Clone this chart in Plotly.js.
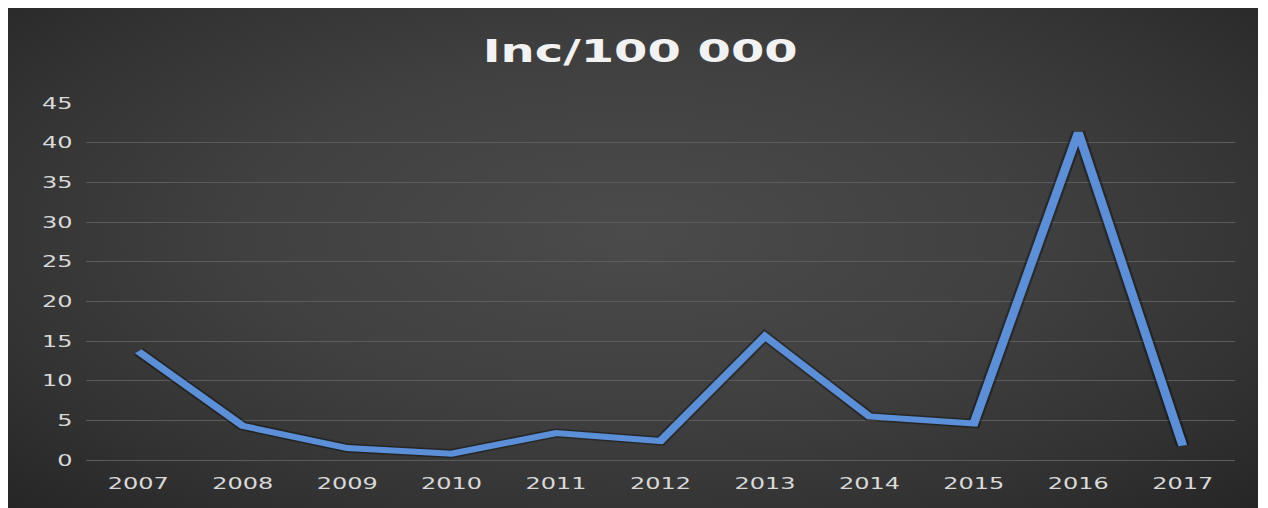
<!DOCTYPE html>
<html>
<head>
<meta charset="utf-8">
<script src="https://cdn.plot.ly/plotly-3.0.1.min.js"></script>
<style>
  html, body { margin: 0; padding: 0; background: #ffffff; width: 1268px; height: 508px; overflow: hidden; }
  #wrap {
    position: absolute; left: 8px; top: 8px; width: 1250px; height: 500px; overflow: hidden;
    background: radial-gradient(ellipse at 50% 45%, #4b4b4b 0%, #404040 45%, #333333 75%, #262626 100%);
  }
  #plot { position: absolute; left: 0; top: 0; width: 833.33px; height: 500px; transform: scaleX(1.5); transform-origin: 0 0; }
</style>
</head>
<body>
<div id="wrap"><div id="plot"></div></div>
<script>
const years = ['2007','2008','2009','2010','2011','2012','2013','2014','2015','2016','2017'];
const incidence = [13.7, 4.3, 1.5, 0.8, 3.4, 2.4, 15.6, 5.5, 4.6, 41.3, 1.8];
const yTicks = [0, 5, 10, 15, 20, 25, 30, 35, 40, 45];
const chartTitle = 'Inc/100 000';

const traces = [
  {
    x: years, y: incidence, type: 'scatter', mode: 'lines',
    line: { color: 'rgba(0,0,0,0.35)', width: 9 }, hoverinfo: 'skip', showlegend: false
  },
  {
    x: years, y: incidence, type: 'scatter', mode: 'lines',
    line: { color: '#5b8fd8', width: 6 }, showlegend: false
  }
];

const layout = {
  width: 833, height: 500,
  paper_bgcolor: 'rgba(0,0,0,0)', plot_bgcolor: 'rgba(0,0,0,0)',
  margin: { l: 52, r: 15, t: 95, b: 48 },
  title: {
    text: chartTitle,
    font: { family: 'DejaVu Sans', size: 32, weight: 'bold', color: '#f2f2f2' },
    xref: 'container', x: 0.506, xanchor: 'center',
    yref: 'container', y: 0.914, yanchor: 'middle'
  },
  xaxis: {
    type: 'category', range: [-0.5, 10.5],
    showgrid: false, zeroline: false, showline: false,
    tickfont: { family: 'DejaVu Sans', size: 16, color: '#d9d9d9' },
    ticklabelstandoff: 12
  },
  yaxis: {
    range: [0, 45], tickvals: yTicks,
    showgrid: true, gridcolor: '#5c5c5c', gridwidth: 1,
    zeroline: true, zerolinecolor: '#5c5c5c', zerolinewidth: 1,
    showline: false,
    tickfont: { family: 'DejaVu Sans', size: 16, color: '#d9d9d9' },
    ticklabelstandoff: 8
  }
};

Plotly.newPlot('plot', traces, layout, { displayModeBar: false, staticPlot: true });
</script>
</body>
</html>
